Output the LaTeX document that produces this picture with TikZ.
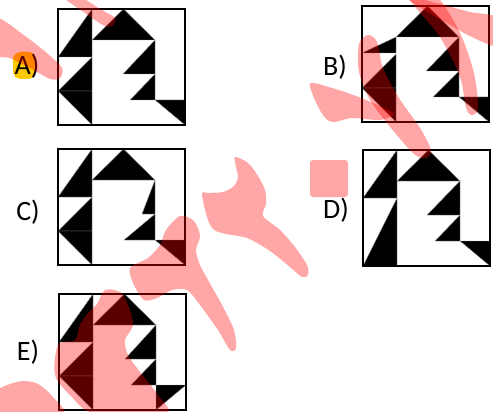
\documentclass[tikz,border=0pt]{standalone}
\usepackage{fontspec}
\setmainfont{Carlito}
\definecolor{marker}{RGB}{255,200,0}
\definecolor{seam}{RGB}{150,150,150}

% pieces of one quilt square, in pixel units of a 127x116 frame
\newcommand{\quiltroof}{\path[piece] (34,31) -- (65.5,0) -- (97,31) -- cycle;}
\newcommand{\talltopleft}{\path[piece] (34,0) -- (34,48) -- (0,48) -- cycle;}
\newcommand{\flattopleft}{\path[piece] (0,47) -- (34,31) -- (34,47) -- cycle;}
\newcommand{\arrowleft}{\path[piece] (0,82) -- (34,48) -- (34,82) -- cycle;
  \path[piece] (0,82) -- (34,82) -- (34,116) -- cycle;}
\newcommand{\wedgeleft}{\path[piece] (34,48) -- (34,116) -- (0,116) -- cycle;}
\newcommand{\quiltteeth}[2]{\path[piece] (97,31) -- (#1,65) -- (97,65) -- cycle;
  \path[piece] (97,65) -- (#2,91) -- (97,91) -- cycle;}
\newcommand{\cornerright}{\path[piece] (97,91) -- (127,91) -- (127,116) -- cycle;}
\newcommand{\cornerleft}{\path[piece] (97,91) -- (127,91) -- (97,116) -- cycle;}
\newcommand{\quiltframe}{\draw[frame] (0,0) rectangle (127,116);}

\begin{document}
\begin{tikzpicture}[x=1pt, y=-1pt,
    piece/.style={fill=black, draw=seam, line width=0.4pt, line join=round},
    frame/.style={draw=black, line width=2.4pt},
    optlabel/.style={font=\fontsize{28}{32}\selectfont, inner sep=0pt},
    stain/.style={fill=red, fill opacity=0.35}]
    \useasboundingbox (0,0) rectangle (493,412);

    % Option A
    \begin{scope}[shift={(58,9)}]
        \talltopleft \arrowleft \quiltroof
        \quiltteeth{65}{72} \cornerright
        \quiltframe
    \end{scope}

    % Option B
    \begin{scope}[shift={(362,6)}]
        \flattopleft \arrowleft \quiltroof
        \quiltteeth{64}{71} \cornerright
        \quiltframe
    \end{scope}

    % Option C
    \begin{scope}[shift={(58,149)}]
        \talltopleft \arrowleft \quiltroof
        \quiltteeth{84}{66} \cornerright
        \quiltframe
    \end{scope}

    % Option D
    \begin{scope}[shift={(363,150)}]
        \talltopleft \wedgeleft \quiltroof
        \quiltteeth{64}{72} \cornerright
        \quiltframe
    \end{scope}

    % Option E
    \begin{scope}[shift={(59,294)}]
        \talltopleft \arrowleft \quiltroof
        \quiltteeth{66}{72} \cornerleft
        \quiltframe
    \end{scope}

    % Place the option labels
    \fill[marker, rounded corners=8pt] (13,52) rectangle (36,79);
    \node[optlabel] (optA) at (27,66) {A)};
    \node[optlabel] (optB) at (335,67) {B)};
    \node[optlabel] (optC) at (28,212) {C)};
    \node[optlabel] (optD) at (336,210) {D)};
    \node[optlabel] (optE) at (28,352) {E)};

    % Watermark strokes
    \begin{scope}
        \clip (0,0) rectangle (493,412);
        \fill[stain] plot[smooth cycle] coordinates {(-4,18) (25,36) (48,54) (62,68) (60,78) (50,79) (30,68) (10,58) (-4,54)};
        \fill[stain] plot[smooth cycle] coordinates {(62,-4) (80,-3) (100,9) (115,18) (112,26) (103,25) (85,13)};
        \fill[stain] plot[smooth cycle] coordinates {(405,-4) (440,4) (470,12) (498,18) (498,46) (470,36) (445,22) (424,10)};
        \fill[stain] plot[smooth cycle] coordinates {(408,-4) (440,37) (460,77) (466,108) (472,115) (478,108) (474,73) (460,33) (436,-4)};
        \fill[stain] plot[smooth cycle] coordinates {(368,35) (377,42) (383,68) (399,98) (420,128) (431,150) (426,158) (414,154) (391,128) (370,100) (359,72) (359,44)};
        \fill[stain] plot[smooth cycle] coordinates {(310,84) (332,88) (356,96) (380,106) (394,114) (380,120) (352,118) (332,122) (321,112)};
        \fill[stain, rounded corners=3pt] (310,160) rectangle (348,197);
        \fill[stain] plot[smooth cycle] coordinates {(235,157) (248,163) (258,176) (265,190) (266,204) (263,216) (280,230) (295,247) (307,265) (308,275) (302,277) (290,267) (270,251) (247,238) (213,229) (202,195) (208,193) (223,192) (234,186) (238,177) (236,167)};
        \fill[stain] plot[smooth cycle] coordinates {(180,216) (194,221) (200,236) (196,250) (200,265) (208,280) (222,305) (234,330) (236,348) (230,350) (218,330) (200,305) (187,290) (172,290) (157,298) (144,300) (134,285) (130,268) (148,258) (160,245) (166,230)};
        \fill[stain] plot[smooth cycle] coordinates {(105,290) (120,292) (128,305) (133,325) (125,340) (128,355) (140,372) (158,395) (166,414) (95,414) (70,395) (55,375) (58,345) (75,340) (80,325) (88,313) (97,304)};
        \fill[stain] plot[smooth cycle] coordinates {(-4,392) (10,384) (24,381) (38,384) (52,396) (62,414) (-4,414)};
    \end{scope}
\end{tikzpicture}
\end{document}
